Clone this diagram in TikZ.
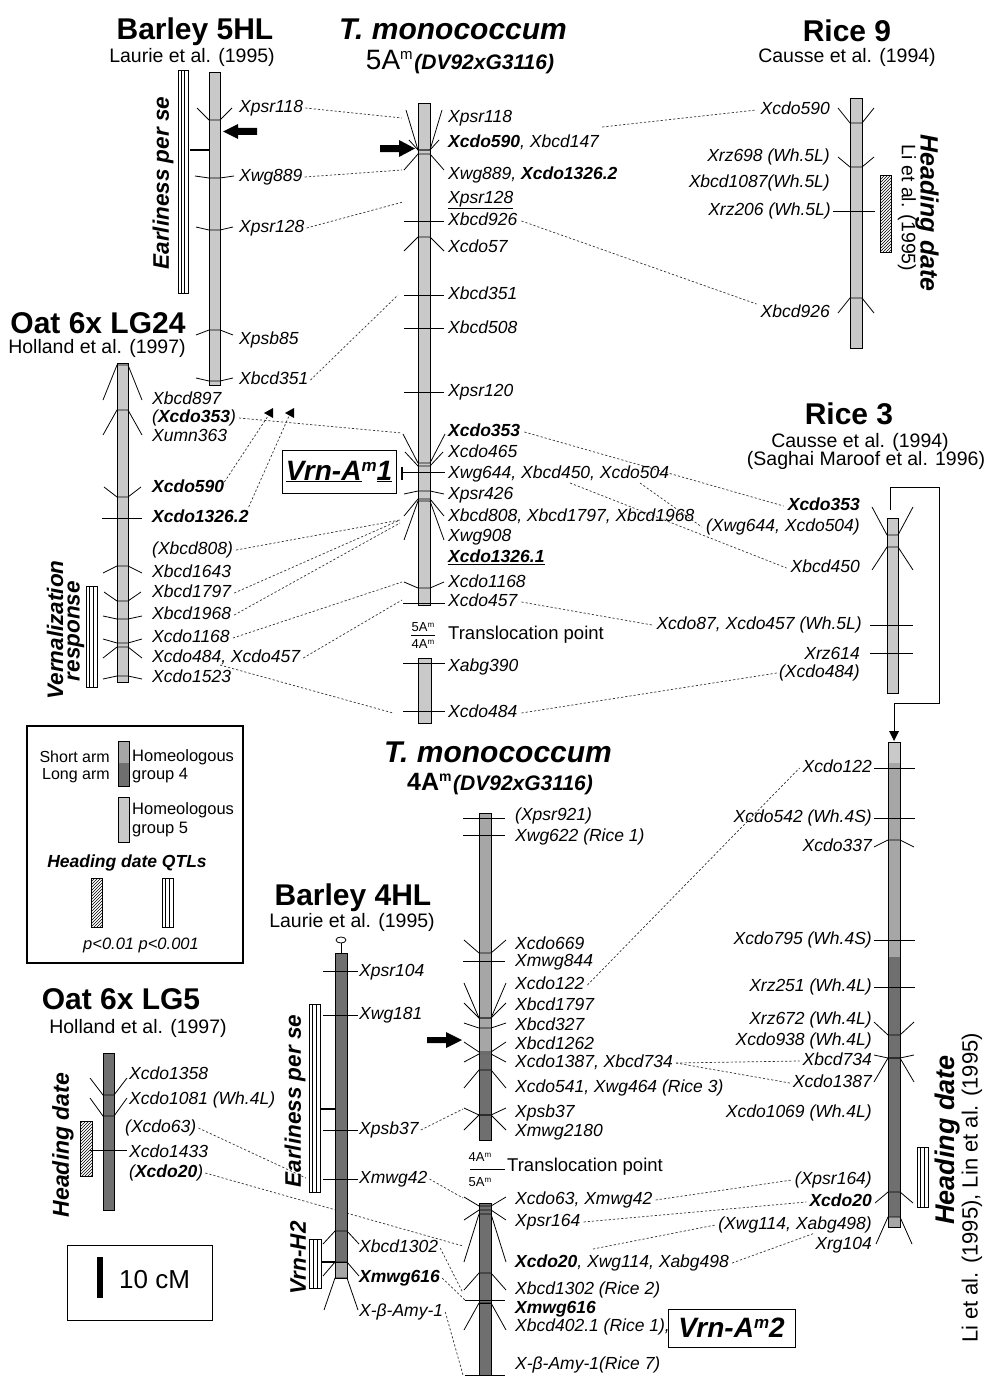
\documentclass[tikz,border=0pt]{standalone}
\usepackage{fontspec}
\setmainfont{Liberation Sans}
\usetikzlibrary{patterns,arrows.meta}
\pgfdeclarelayer{bg}
\pgfsetlayers{bg,main}
\definecolor{gfive}{HTML}{C9C9C9}
\definecolor{gshort}{HTML}{A6A6A6}
\definecolor{glong}{HTML}{6F6F6F}
\newcommand\fsz[1]{\fontsize{#1}{#1}\selectfont}
\newcommand\mkr[5]{\draw[mk] ({#1-#5},#4) -- (#1,#3) -- (#2,#3) -- ({#2+#5},#4);}
\newcommand\hmk[3]{\draw[mk] (#1,#3) -- (#2,#3);}
\newcommand\dblbox[4]{\draw[fill=white,line width=0.9pt] (#1,#2) rectangle (#3,#4);
  \draw[line width=0.5pt] ({#1+(#3-#1)/3},#2) -- ({#1+(#3-#1)/3},#4);
  \draw[line width=0.5pt] ({#1+2*(#3-#1)/3},#2) -- ({#1+2*(#3-#1)/3},#4);}
\newcommand\hatchbox[4]{\draw[pattern=north east lines,line width=0.9pt] (#1,#2) rectangle (#3,#4);}
\tikzset{
 lab/.style={font=\fsz{17.5}\itshape, inner sep=0pt, text height=12.5pt, text depth=3.5pt},
 ttl/.style={font=\fsz{30}\bfseries, inner sep=0pt},
 ttli/.style={font=\fsz{30}\bfseries\itshape, inner sep=0pt},
 sub/.style={font=\fsz{19.5}, inner sep=0pt},
 rotb/.style={font=\fsz{22.5}\bfseries\itshape, inner sep=0pt},
 mk/.style={line width=0.8pt},
 barfill/.style={draw=black, line width=0.8pt},
 conn/.style={line width=0.7pt, dash pattern=on 2.2pt off 2pt, black!80},
}
\begin{document}
\begin{tikzpicture}[x=1pt,y=-1pt]
\useasboundingbox (0,0) rectangle (984,1378);

% ================= Barley 5HL
\node[ttl] (b5title) at (195,32) {Barley 5HL};
\node[sub] (b5ref) at (192,57) {Laurie et al. (1995)};
\draw[barfill,fill=gfive] (209,72) rectangle (220,385);
\dblbox{178}{70}{188}{293}
\draw[line width=1.2pt] (190,150) -- (209,150);
\node[rotb,rotate=90] (b5qtl) at (163,183) {Earliness per se};
\fill (257,128) -- (238,128) -- (238,124) -- (223,131.5) -- (238,139) -- (238,135) -- (257,135) -- cycle;
\mkr{209}{220}{120}{108}{12}
\mkr{209}{220}{178}{176}{14}
\mkr{209}{220}{230}{227}{13}
\mkr{209}{220}{330}{335}{13}
\mkr{209}{220}{381}{378}{13}
\node[lab,anchor=west] (b5psr118) at (239,108) {Xpsr118};
\node[lab,anchor=west] (b5wg889) at (239,177) {Xwg889};
\node[lab,anchor=west] (b5psr128) at (239,228) {Xpsr128};
\node[lab,anchor=west] (b5psb85) at (239,340) {Xpsb85};
\node[lab,anchor=west] (b5bcd351) at (239,380) {Xbcd351};

% ================= T. monococcum 5Am
\node[ttli] (t5title) at (453,29) {T. monococcum};
\node[inner sep=0pt] (t5sub) at (460,62) {{\fsz{28}5A}\raisebox{10pt}{\fsz{15}m}\,{\fsz{21}\bfseries\itshape(DV92xG3116)}};
\draw[barfill,fill=gfive] (418,103) rectangle (430,605);
\draw[barfill,fill=gfive] (418,658) rectangle (431,723);
\fill (380,145) -- (399,145) -- (399,140) -- (415,148.5) -- (399,157) -- (399,152) -- (380,152) -- cycle;
\mkr{418}{430}{150}{110}{12}
\mkr{418}{430}{150}{140}{9}
\mkr{418}{430}{154}{170}{14}
\hmk{404}{444}{221}
\mkr{418}{430}{237}{251}{14}
\hmk{404}{444}{295}
\hmk{404}{444}{328}
\hmk{404}{444}{392}
\mkr{418}{430}{463}{434}{15}
\mkr{418}{430}{466}{452}{13}
\hmk{403}{445}{472}
\mkr{418}{430}{491}{494}{14}
\mkr{418}{430}{499}{516}{14}
\mkr{418}{430}{501}{540}{14}
\mkr{418}{430}{588}{582}{14}
\hmk{403}{445}{603}
\hmk{403}{445}{663}
\hmk{403}{445}{711}
\node[lab,anchor=west] (t5psr118) at (448,118) {Xpsr118};
\node[lab,anchor=west] (t5cdo590) at (448,143) {\textbf{Xcdo590}, Xbcd147};
\node[lab,anchor=west] (t5wg889) at (448,175) {Xwg889, \textbf{Xcdo1326.2}};
\node[lab,anchor=west] (t5psr128) at (448,199) {\underline{Xpsr128}};
\node[lab,anchor=west] (t5bcd926) at (448,221) {Xbcd926};
\node[lab,anchor=west] (t5cdo57) at (448,248) {Xcdo57};
\node[lab,anchor=west] (t5bcd351) at (448,295) {Xbcd351};
\node[lab,anchor=west] (t5bcd508) at (448,329) {Xbcd508};
\node[lab,anchor=west] (t5psr120) at (448,392) {Xpsr120};
\node[lab,anchor=west] (t5cdo353) at (448,432) {\textbf{Xcdo353}};
\node[lab,anchor=west] (t5cdo465) at (448,453) {Xcdo465};
\node[lab,anchor=west] (t5wg644) at (448,474) {Xwg644, Xbcd450, Xcdo504};
\node[lab,anchor=west] (t5psr426) at (448,495) {Xpsr426};
\node[lab,anchor=west] (t5bcd808) at (448,517) {Xbcd808, Xbcd1797, Xbcd1968};
\node[lab,anchor=west] (t5wg908) at (448,537) {Xwg908};
\node[lab,anchor=west] (t5cdo1326) at (448,558) {\underline{\textbf{Xcdo1326.1}}};
\node[lab,anchor=west] (t5cdo1168) at (448,583) {Xcdo1168};
\node[lab,anchor=west] (t5cdo457) at (448,602) {Xcdo457};
\node[lab,anchor=west] (t5abg390) at (448,667) {Xabg390};
\node[lab,anchor=west] (t5cdo484) at (448,713) {Xcdo484};
\node[draw, line width=1pt, minimum width=114pt, minimum height=43pt, inner sep=0pt, font=\fsz{28}\bfseries\itshape] (vrn1) at (339,471.5) {\underline{Vrn-A}\raisebox{9pt}{\fsz{17}m}\underline{1}};
\draw[line width=2.5pt] (402,467) -- (402,480);
\node[font=\fsz{13}, inner sep=0pt] (t5tr1) at (423,627) {5A\raisebox{4pt}{\fsz{8}m}};
\draw[line width=0.6pt] (411,635) -- (435,635);
\node[font=\fsz{13}, inner sep=0pt] (t5tr2) at (423,644) {4A\raisebox{4pt}{\fsz{8}m}};
\node[font=\fsz{18.5}, inner sep=0pt, anchor=west] (t5tr) at (448,635) {Translocation point};
\fill (264,413) -- (273,408) -- (273,418) -- cycle;
\fill (285,413) -- (294,408) -- (294,418) -- cycle;

% ================= Rice 9
\node[ttl] (r9title) at (847,31) {Rice 9};
\node[sub] (r9ref) at (847,57) {Causse et al. (1994)};
\draw[barfill,fill=gfive] (850,98) rectangle (862,348);
\hatchbox{880}{175}{891}{252}
\mkr{850}{862}{123}{108}{12}
\mkr{850}{862}{167}{157}{12}
\hmk{833}{875}{211}
\mkr{850}{862}{298}{313}{12}
\node[lab,anchor=east] (r9cdo590) at (830,110) {Xcdo590};
\node[lab,anchor=east] (r9rz698) at (830,157) {Xrz698 (Wh.5L)};
\node[lab,anchor=east] (r9bcd1087) at (830,183) {Xbcd1087(Wh.5L)};
\node[lab,anchor=east] (r9rz206) at (831,211) {Xrz206 (Wh.5L)};
\node[lab,anchor=east] (r9bcd926) at (830,313) {Xbcd926};
\node[rotb,font=\fsz{25}\bfseries\itshape,rotate=-90] (r9qtl) at (927,213) {Heading date};
\node[sub,rotate=-90] (r9qref) at (907,208) {Li et al. (1995)};

% ================= Oat 6x LG24
\node[ttl] (o24title) at (98,323) {Oat 6x LG24};
\node[sub] (o24ref) at (97,348) {Holland et al. (1997)};
\draw[barfill,fill=gfive] (117,363) rectangle (128,682);
\dblbox{86}{586}{97}{687}
\mkr{117}{128}{365}{400}{14}
\mkr{117}{128}{410}{435}{14}
\mkr{117}{128}{497}{487}{13}
\hmk{102}{142}{518}
\mkr{117}{128}{566}{573}{14}
\mkr{117}{128}{601}{592}{13}
\mkr{117}{128}{619}{616}{14}
\mkr{117}{128}{643}{639}{14}
\mkr{117}{128}{647}{658}{14}
\mkr{117}{128}{676}{679}{14}
\node[lab,anchor=west] (o24bcd897) at (152,400) {Xbcd897};
\node[lab,anchor=west] (o24cdo353) at (152,418) {(\textbf{Xcdo353})};
\node[lab,anchor=west] (o24umn363) at (152,437) {Xumn363};
\node[lab,anchor=west] (o24cdo590) at (152,488) {\textbf{Xcdo590}};
\node[lab,anchor=west] (o24cdo1326) at (152,518) {\textbf{Xcdo1326.2}};
\node[lab,anchor=west] (o24bcd808) at (152,550) {(Xbcd808)};
\node[lab,anchor=west] (o24bcd1643) at (152,573) {Xbcd1643};
\node[lab,anchor=west] (o24bcd1797) at (152,593) {Xbcd1797};
\node[lab,anchor=west] (o24bcd1968) at (152,615) {Xbcd1968};
\node[lab,anchor=west] (o24cdo1168) at (152,638) {Xcdo1168};
\node[lab,anchor=west] (o24cdo484) at (152,658) {Xcdo484, Xcdo457};
\node[lab,anchor=west] (o24cdo1523) at (152,678) {Xcdo1523};
\node[rotb,rotate=90] (o24q1) at (55,630) {Vernalization};
\node[rotb,rotate=90] (o24q2) at (76,631) {response};

% ================= Rice 3 (group 5 part)
\node[ttl] (r3title) at (849,414) {Rice 3};
\node[sub] (r3ref1) at (860,442) {Causse et al. (1994)};
\node[sub] (r3ref2) at (866,460) {(Saghai Maroof et al. 1996)};
\draw[barfill,fill=gfive] (887,518) rectangle (898,693);
\mkr{887}{898}{535}{507}{15}
\mkr{887}{898}{547}{570}{15}
\hmk{870}{913}{625}
\hmk{870}{913}{653}
\node[lab,anchor=east] (r3cdo353) at (860,506) {\textbf{Xcdo353}};
\node[lab,anchor=east] (r3wg644) at (860,527) {(Xwg644, Xcdo504)};
\node[lab,anchor=east] (r3bcd450) at (860,568) {Xbcd450};
\node[lab,anchor=east] (r3cdo87) at (862,625) {Xcdo87, Xcdo457 (Wh.5L)};
\node[lab,anchor=east] (r3rz614) at (860,655) {Xrz614};
\node[lab,anchor=east] (r3cdo484) at (860,673) {(Xcdo484)};
\draw[line width=0.9pt] (890,510) -- (890,487) -- (939,487) -- (939,703) -- (894,703) -- (894,732);
\fill (889,731) -- (899,731) -- (894,741) -- cycle;

% ================= Rice 3 (group 4 part)
\fill[gfive] (888,742) rectangle (900,763);
\fill[gshort] (888,763) rectangle (900,957);
\fill[glong] (888,957) rectangle (900,1217);
\fill[gshort] (888,1217) rectangle (900,1227);
\draw[line width=0.8pt] (888,742) rectangle (900,1227);
\dblbox{917}{1147}{928}{1207}
\hmk{874}{915}{768}
\hmk{874}{915}{818}
\mkr{888}{900}{840}{847}{14}
\hmk{874}{915}{940}
\hmk{874}{915}{987}
\mkr{888}{900}{1035}{1022}{14}
\mkr{888}{900}{1058}{1055}{14}
\mkr{888}{900}{1058}{1082}{14}
\mkr{888}{900}{1192}{1203}{13}
\mkr{888}{900}{1217}{1244}{12}
\node[lab,anchor=east] (rlcdo122) at (872,768) {Xcdo122};
\node[lab,anchor=east] (rlcdo542) at (872,818) {Xcdo542 (Wh.4S)};
\node[lab,anchor=east] (rlcdo337) at (872,847) {Xcdo337};
\node[lab,anchor=east] (rlcdo795) at (872,940) {Xcdo795 (Wh.4S)};
\node[lab,anchor=east] (rlrz251) at (872,987) {Xrz251 (Wh.4L)};
\node[lab,anchor=east] (rlrz672) at (872,1020) {Xrz672 (Wh.4L)};
\node[lab,anchor=east] (rlcdo938) at (872,1041) {Xcdo938 (Wh.4L)};
\node[lab,anchor=east] (rlbcd734) at (872,1061) {Xbcd734};
\node[lab,anchor=east] (rlcdo1387) at (872,1083) {Xcdo1387};
\node[lab,anchor=east] (rlcdo1069) at (872,1113) {Xcdo1069 (Wh.4L)};
\node[lab,anchor=east] (rlpsr164) at (872,1180) {(Xpsr164)};
\node[lab,anchor=east] (rlcdo20) at (872,1202) {\textbf{Xcdo20}};
\node[lab,anchor=east] (rlwg114) at (872,1225) {(Xwg114, Xabg498)};
\node[lab,anchor=east] (rlrg104) at (872,1245) {Xrg104};
\node[rotb,font=\fsz{27}\bfseries\itshape,rotate=90] (rlq) at (948,1140) {Heading date};
\node[sub,font=\fsz{22},rotate=90] (rlqref) at (972,1188) {Li et al. (1995), Lin et al. (1995)};

% ================= T. monococcum 4Am
\node[ttli] (t4title) at (498,752) {T. monococcum};
\node[inner sep=0pt] (t4sub) at (500,784) {{\fsz{25}\bfseries 4A}\raisebox{9pt}{\fsz{14}\bfseries m}\,{\fsz{21}\bfseries\itshape (DV92xG3116)}};
\fill[gshort] (479,813) rectangle (491,1055);
\fill[glong] (479,1055) rectangle (491,1140);
\draw[line width=0.8pt] (479,813) rectangle (491,1140);
\draw[barfill,fill=glong] (479,1203) rectangle (491,1375);
\hmk{463}{505}{818}
\hmk{463}{505}{835}
\mkr{479}{491}{953}{940}{15}
\hmk{463}{505}{961}
\mkr{479}{491}{1018}{983}{15}
\mkr{479}{491}{1018}{1003}{15}
\mkr{479}{491}{1028}{1023}{15}
\mkr{479}{491}{1052}{1042}{15}
\mkr{479}{491}{1054}{1062}{15}
\mkr{479}{491}{1070}{1088}{15}
\mkr{479}{491}{1115}{1108}{15}
\mkr{479}{491}{1115}{1130}{15}
\mkr{479}{491}{1206}{1197}{15}
\mkr{479}{491}{1210}{1220}{15}
\mkr{479}{491}{1214}{1262}{15}
\mkr{479}{491}{1273}{1290}{15}
\hmk{465}{505}{1300}
\draw[mk] (479,1303) -- (491,1303);
\mkr{479}{491}{1303}{1330}{15}
\hmk{465}{505}{1375}
\fill (427,1037) -- (446,1037) -- (446,1032) -- (462,1040) -- (446,1048) -- (446,1043) -- (427,1043) -- cycle;
\node[lab,anchor=west] (t4psr921) at (515,816) {(Xpsr921)};
\node[lab,anchor=west] (t4wg622) at (515,837) {Xwg622 (Rice 1)};
\node[lab,anchor=west] (t4cdo669) at (515,945) {Xcdo669};
\node[lab,anchor=west] (t4mwg844) at (515,962) {Xmwg844};
\node[lab,anchor=west] (t4cdo122) at (515,985) {Xcdo122};
\node[lab,anchor=west] (t4bcd1797) at (515,1006) {Xbcd1797};
\node[lab,anchor=west] (t4bcd327) at (515,1026) {Xbcd327};
\node[lab,anchor=west] (t4bcd1262) at (515,1045) {Xbcd1262};
\node[lab,anchor=west] (t4cdo1387) at (515,1063) {Xcdo1387, Xbcd734};
\node[lab,anchor=west] (t4cdo541) at (515,1088) {Xcdo541, Xwg464 (Rice 3)};
\node[lab,anchor=west] (t4psb37) at (515,1113) {Xpsb37};
\node[lab,anchor=west] (t4mwg2180) at (515,1132) {Xmwg2180};
\node[lab,anchor=west] (t4cdo63) at (515,1200) {Xcdo63, Xmwg42};
\node[lab,anchor=west] (t4psr164) at (515,1222) {Xpsr164};
\node[lab,anchor=west] (t4cdo20) at (515,1263) {\textbf{Xcdo20}, Xwg114, Xabg498};
\node[lab,anchor=west] (t4bcd1302) at (515,1290) {Xbcd1302 (Rice 2)};
\node[lab,anchor=west] (t4mwg616) at (515,1309) {\textbf{Xmwg616}};
\node[lab,anchor=west] (t4bcd402) at (515,1327) {Xbcd402.1 (Rice 1),};
\node[lab,anchor=west] (t4amy) at (515,1365) {X-β-Amy-1(Rice 7)};
\node[font=\fsz{13}, inner sep=0pt] (t4tr1) at (480,1157) {4A\raisebox{4pt}{\fsz{8}m}};
\draw[line width=0.6pt] (470,1169) -- (505,1169);
\node[font=\fsz{13}, inner sep=0pt] (t4tr2) at (480,1182) {5A\raisebox{4pt}{\fsz{8}m}};
\node[font=\fsz{18.5}, inner sep=0pt, anchor=west] (t4tr) at (507,1167) {Translocation point};
\node[draw, line width=1pt, minimum width=127pt, minimum height=38pt, inner sep=0pt, font=\fsz{28}\bfseries\itshape] (vrn2) at (731.5,1328) {Vrn-A\raisebox{9pt}{\fsz{17}m}2};

% ================= Barley 4HL
\node[ttl] (b4title) at (353,898) {Barley 4HL};
\node[sub] (b4ref) at (352,922) {Laurie et al. (1995)};
\draw[line width=0.8pt] (341,943) -- (341,953);
\draw[line width=0.8pt, fill=white] (341,940) ellipse [x radius=5pt, y radius=3pt];
\draw[barfill,fill=glong] (335,953) rectangle (347,1262);
\draw[barfill,fill=gshort] (335,1262) rectangle (347,1278);
\dblbox{309}{1004}{320}{1192}
\draw[line width=1.2pt] (320,1109) -- (335,1109);
\dblbox{309}{1239}{321}{1288}
\draw[line width=1.2pt] (321,1262) -- (335,1262);
\hmk{323}{358}{971}
\hmk{323}{358}{1015}
\hmk{323}{358}{1130}
\hmk{323}{358}{1179}
\mkr{335}{347}{1231}{1244}{12}
\mkr{335}{347}{1262}{1276}{12}
\mkr{335}{347}{1278}{1310}{11}
\node[lab,anchor=west] (b4psr104) at (359,972) {Xpsr104};
\node[lab,anchor=west] (b4wg181) at (359,1015) {Xwg181};
\node[lab,anchor=west] (b4psb37) at (359,1130) {Xpsb37};
\node[lab,anchor=west] (b4mwg42) at (359,1179) {Xmwg42};
\node[lab,anchor=west] (b4bcd1302) at (359,1248) {Xbcd1302};
\node[lab,anchor=west] (b4mwg616) at (359,1278) {\textbf{Xmwg616}};
\node[lab,anchor=west] (b4amy) at (359,1312) {X-β-Amy-1};
\node[rotb,rotate=90] (b4q1) at (295,1101) {Earliness per se};
\node[rotb,rotate=90] (b4q2) at (298,1258) {Vrn-H2};

% ================= Oat 6x LG5
\node[ttl] (o5title) at (121,999) {Oat 6x LG5};
\node[sub] (o5ref) at (138,1028) {Holland et al. (1997)};
\draw[barfill,fill=glong] (103,1053) rectangle (114,1210);
\hatchbox{80}{1121}{92}{1176}
\mkr{103}{114}{1095}{1078}{13}
\mkr{103}{114}{1116}{1098}{13}
\hmk{90}{127}{1150}
\node[lab,anchor=west] (o5cdo1358) at (129,1075) {Xcdo1358};
\node[lab,anchor=west] (o5cdo1081) at (129,1100) {Xcdo1081 (Wh.4L)};
\node[lab,anchor=west] (o5cdo63) at (125,1128) {(Xcdo63)};
\node[lab,anchor=west] (o5cdo1433) at (129,1153) {Xcdo1433};
\node[lab,anchor=west] (o5cdo20) at (129,1173) {(\textbf{Xcdo20})};
\node[rotb,font=\fsz{23}\bfseries\itshape,rotate=90] (o5q) at (63,1145) {Heading date};

% ================= Scale
\draw[line width=1pt] (67,1245) rectangle (212,1320);
\draw[line width=6pt] (100,1257) -- (100,1298);
\node[font=\fsz{26},inner sep=0pt,anchor=west] (scale) at (119,1280) {10 cM};

% ================= Legend
\draw[line width=1.3pt] (27,726) rectangle (243,963);
\node[font=\fsz{16},inner sep=0pt,anchor=east] (lgsa) at (110,757) {Short arm};
\node[font=\fsz{16},inner sep=0pt,anchor=east] (lgla) at (110,776) {Long arm};
\fill[gshort] (118,741) rectangle (129,763);
\fill[glong] (118,763) rectangle (129,786);
\draw[line width=0.8pt] (118,741) rectangle (129,786);
\node[font=\fsz{16.5},inner sep=0pt,anchor=west] (lgh4) at (132,757) {Homeologous};
\node[font=\fsz{16.5},inner sep=0pt,anchor=west] (lgg4) at (132,776) {group 4};
\draw[barfill,fill=gfive] (118,797) rectangle (129,842);
\node[font=\fsz{16.5},inner sep=0pt,anchor=west] (lgh5) at (132,810) {Homeologous};
\node[font=\fsz{16.5},inner sep=0pt,anchor=west] (lgg5) at (132,830) {group 5};
\node[font=\fsz{17.5}\bfseries\itshape,inner sep=0pt] (lgq) at (127,863) {Heading date QTLs};
\hatchbox{91}{878}{102}{927}
\dblbox{162}{878}{173}{927}
\node[font=\fsz{16.5}\itshape,inner sep=0pt] (lgp) at (141,945) {p<0.01 p<0.001};

% ================= Connectors (background layer)
\begin{pgfonlayer}{bg}
\fill[white] (0,0) rectangle (984,1378);
\coordinate (k1) at (402,118);
\coordinate (k2) at (402,170);
\coordinate (k3) at (403,202);
\coordinate (k4) at (398,295);
\coordinate (k5) at (402,433);
\coordinate (k6) at (268,416);
\coordinate (k7) at (289,416);
\coordinate (k8) at (400,520);
\coordinate (k9) at (400,523);
\coordinate (k10) at (402,582);
\coordinate (k11) at (402,600);
\coordinate (k12) at (220,665);
\coordinate (k13) at (393,713);
\coordinate (k14) at (640,483);
\coordinate (k15) at (570,483);
\coordinate (k16) at (593,1249);
\coordinate (k17) at (815,1233);
\coordinate (k18) at (463,1109);
\coordinate (k19) at (463,1198);
\coordinate (k20) at (463,1293);
\coordinate (k21) at (465,1300);
\coordinate (k22) at (463,1375);
\coordinate (k23) at (306,1178);
\coordinate (k24) at (463,1246);
\draw[conn] ([xshift=2pt]b5psr118.east) -- (k1);
\draw[conn] ([xshift=2pt]b5wg889.east) -- (k2);
\draw[conn] ([xshift=2pt]b5psr128.east) -- (k3);
\draw[conn] ([xshift=2pt]b5bcd351.east) -- (k4);
\draw[conn] ([shift={(3,-16)}]t5cdo590.east) -- ([xshift=-4pt]r9cdo590.west);
\draw[conn] ([xshift=4pt]t5bcd926.east) -- ([shift={(-4,-9)}]r9bcd926.west);
\draw[conn] ([xshift=3pt]o24cdo353.east) -- (k5);
\draw[conn] ([shift={(0,-6)}]o24cdo590.east) -- (k6);
\draw[conn] ([shift={(0,-11)}]o24cdo1326.east) -- (k7);
\draw[conn] ([xshift=3pt]o24bcd808.east) -- (k8);
\draw[conn] ([xshift=3pt]o24bcd1797.east) -- (k8);
\draw[conn] ([xshift=3pt]o24bcd1968.east) -- (k9);
\draw[conn] ([xshift=3pt]o24cdo1168.east) -- (k10);
\draw[conn] ([xshift=3pt]o24cdo484.east) -- (k11);
\draw[conn] (k12) -- (k13);
\draw[conn] ([xshift=4pt]t5cdo353.east) -- ([xshift=-4pt]r3cdo353.west);
\draw[conn] (k14) -- ([xshift=-4pt]r3wg644.west);
\draw[conn] (k15) -- ([xshift=-4pt]r3bcd450.west);
\draw[conn] ([xshift=4pt]t5cdo457.east) -- ([xshift=-4pt]r3cdo87.west);
\draw[conn] ([xshift=4pt]t5cdo484.east) -- ([xshift=-2pt]r3cdo484.west);
\draw[conn] ([xshift=3pt]t4cdo122.east) -- ([xshift=-3pt]rlcdo122.west);
\draw[conn] ([xshift=3pt]t4cdo1387.east) -- ([xshift=-3pt]rlbcd734.west);
\draw[conn] ([xshift=3pt]t4cdo1387.east) -- ([xshift=-3pt]rlcdo1387.west);
\draw[conn] ([xshift=3pt]t4cdo63.east) -- ([xshift=-3pt]rlpsr164.west);
\draw[conn] ([xshift=3pt]t4psr164.east) -- ([xshift=-3pt]rlcdo20.west);
\draw[conn] (k16) -- ([xshift=-3pt]rlwg114.west);
\draw[conn] ([xshift=3pt]t4cdo20.east) -- (k17);
\draw[conn] ([xshift=2pt]b4psb37.east) -- (k18);
\draw[conn] ([xshift=2pt]b4mwg42.east) -- (k19);
\draw[conn] ([xshift=2pt]b4bcd1302.east) -- (k20);
\draw[conn] ([xshift=2pt]b4mwg616.east) -- (k21);
\draw[conn] ([xshift=2pt]b4amy.east) -- (k22);
\draw[conn] ([xshift=2pt]o5cdo63.east) -- (k23);
\draw[conn] ([xshift=2pt]o5cdo20.east) -- (k24);
\end{pgfonlayer}
\end{tikzpicture}
\end{document}
